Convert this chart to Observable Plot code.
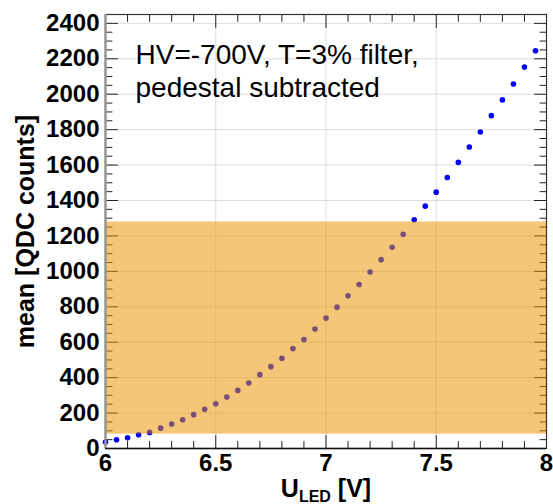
<!DOCTYPE html>
<html><head><meta charset="utf-8">
<script src="https://cdn.jsdelivr.net/npm/d3@7"></script>
<script src="https://cdn.jsdelivr.net/npm/@observablehq/plot@0.6"></script>
<style>body{margin:0;background:#fff}</style>
</head><body><div id="chart"></div>
<script>
const uLed = [6.00, 6.05, 6.10, 6.15, 6.20, 6.25, 6.30, 6.35, 6.40, 6.45,
              6.50, 6.55, 6.60, 6.65, 6.70, 6.75, 6.80, 6.85, 6.90, 6.95,
              7.00, 7.05, 7.10, 7.15, 7.20, 7.25, 7.30, 7.35, 7.40, 7.45,
              7.50, 7.55, 7.60, 7.65, 7.70, 7.75, 7.80, 7.85, 7.90, 7.95];
const meanCounts = [36, 49, 60, 77, 91, 115, 138, 162, 191, 221,
                    253, 291, 328, 370, 417, 462, 509, 564, 615, 675,
                    736, 798, 862, 926, 996, 1066, 1136, 1209, 1291, 1368,
                    1447, 1530, 1615, 1702, 1787, 1879, 1968, 2058, 2153, 2245];
const bandLow = [81];
const bandHigh = [1279];
const xDomain = [6, 8];
const yDomain = [0, 2450];
const xMajorTicks = [6, 6.5, 7, 7.5, 8];
const xMinorTicks = [6.1, 6.2, 6.3, 6.4, 6.6, 6.7, 6.8, 6.9, 7.1, 7.2, 7.3, 7.4, 7.6, 7.7, 7.8, 7.9];
const xGrid = [6.5, 7, 7.5];
const yMajorTicks = [0, 200, 400, 600, 800, 1000, 1200, 1400, 1600, 1800, 2000, 2200, 2400];
const yMinorTicks = [50, 100, 150, 250, 300, 350, 450, 500, 550, 650, 700, 750, 850, 900, 950,
                     1050, 1100, 1150, 1250, 1300, 1350, 1450, 1500, 1550, 1650, 1700, 1750,
                     1850, 1900, 1950, 2050, 2100, 2150, 2250, 2300, 2350, 2450];
const annotation = ["HV=-700V, T=3% filter,\npedestal subtracted"];
const yTitle = ["mean [QDC counts]"];
const xTitleMain = "U";
const xTitleSub = "LED";
const xTitleUnit = " [V]";

const points = uLed.map((u, i) => ({u, m: meanCounts[i]}));
const band = bandLow.map((lo, i) => ({lo, hi: bandHigh[i]}));

const tickShape = {draw(context, l) { context.moveTo(0, 0); context.lineTo(0, -l); }};
const tickColor = "#222";
function ticks(values, side, len) {
  const rot = {left: 90, right: -90, bottom: 0, top: 180}[side];
  const horiz = side === "left" || side === "right";
  return Plot.vector(values, {
    ...(horiz ? {y: d => d} : {x: d => d}),
    frameAnchor: side, rotate: rot, length: len, anchor: "start",
    shape: tickShape, stroke: tickColor, strokeWidth: 1
  });
}

const chart = Plot.plot({
  width: 553, height: 504,
  marginLeft: 105, marginRight: 7, marginTop: 14, marginBottom: 56,
  style: {fontFamily: "'Liberation Sans', Arial, sans-serif", background: "#fff"},
  x: {domain: xDomain},
  y: {domain: yDomain},
  marks: [
    Plot.ruleY(yMajorTicks, {stroke: "#dcdcdc", strokeWidth: 1}),
    Plot.ruleX(xGrid, {stroke: "#dcdcdc", strokeWidth: 1}),
    Plot.dot(points, {x: "u", y: "m", r: 2.8, fill: "#0000ff", stroke: "none"}),
    ticks(yMajorTicks.filter(d => d > 0), "left", 12),
    ticks(yMinorTicks, "left", 6.5),
    ticks(yMajorTicks.filter(d => d > 0), "right", 12),
    ticks(yMinorTicks, "right", 6.5),
    ticks(xMajorTicks.filter(d => d > 6 && d < 8), "bottom", 13),
    ticks(xMinorTicks, "bottom", 7),
    ticks(xMajorTicks.filter(d => d > 6 && d < 8), "top", 13),
    ticks(xMinorTicks, "top", 7),
    Plot.rect(band, {x1: () => xDomain[0], x2: () => xDomain[1], y1: "lo", y2: "hi",
                     fill: "#e89400", fillOpacity: 0.53}),
    Plot.frame({stroke: "#333", strokeWidth: 1.2}),
    Plot.ruleX([xDomain[0]], {stroke: "#999", strokeWidth: 2.5}),
    Plot.ruleY([yDomain[0]], {stroke: "#111", strokeWidth: 1.5}),
    Plot.axisY(yMajorTicks, {tickSize: 0, tickPadding: 6, fontSize: 24, fontWeight: "bold",
                             fill: "#000", label: null, tickFormat: d => String(d)}),
    Plot.axisX(xMajorTicks, {tickSize: 0, tickPadding: 5, fontSize: 24, fontWeight: "bold",
                             fill: "#000", label: null, tickFormat: d => String(d)}),
    Plot.text(annotation, {frameAnchor: "top-left", textAnchor: "start", lineAnchor: "top",
                           dx: 30, dy: 27, fontSize: 28, lineHeight: 1.15, fill: "#000"}),
    Plot.text(yTitle, {frameAnchor: "left", rotate: -90, dx: -80, fontSize: 25,
                       fontWeight: "bold", textAnchor: "middle", lineAnchor: "middle", fill: "#000"}),
    Plot.text([xTitleMain], {frameAnchor: "bottom", dy: 31, fontSize: 25, fontWeight: "bold",
                       textAnchor: "middle", lineAnchor: "top", fill: "#000"})
  ]
});
document.getElementById("chart").appendChild(chart);

// subscript for x title
d3.select(chart).selectAll("text").filter(function() { return this.textContent === xTitleMain; })
  .each(function() {
    const t = d3.select(this);
    t.text(null);
    t.append("tspan").text(xTitleMain);
    t.append("tspan").attr("font-size", 16).attr("dy", 5).text(xTitleSub);
    t.append("tspan").attr("dy", -5).text(xTitleUnit);
  });
</script>
</body></html>
